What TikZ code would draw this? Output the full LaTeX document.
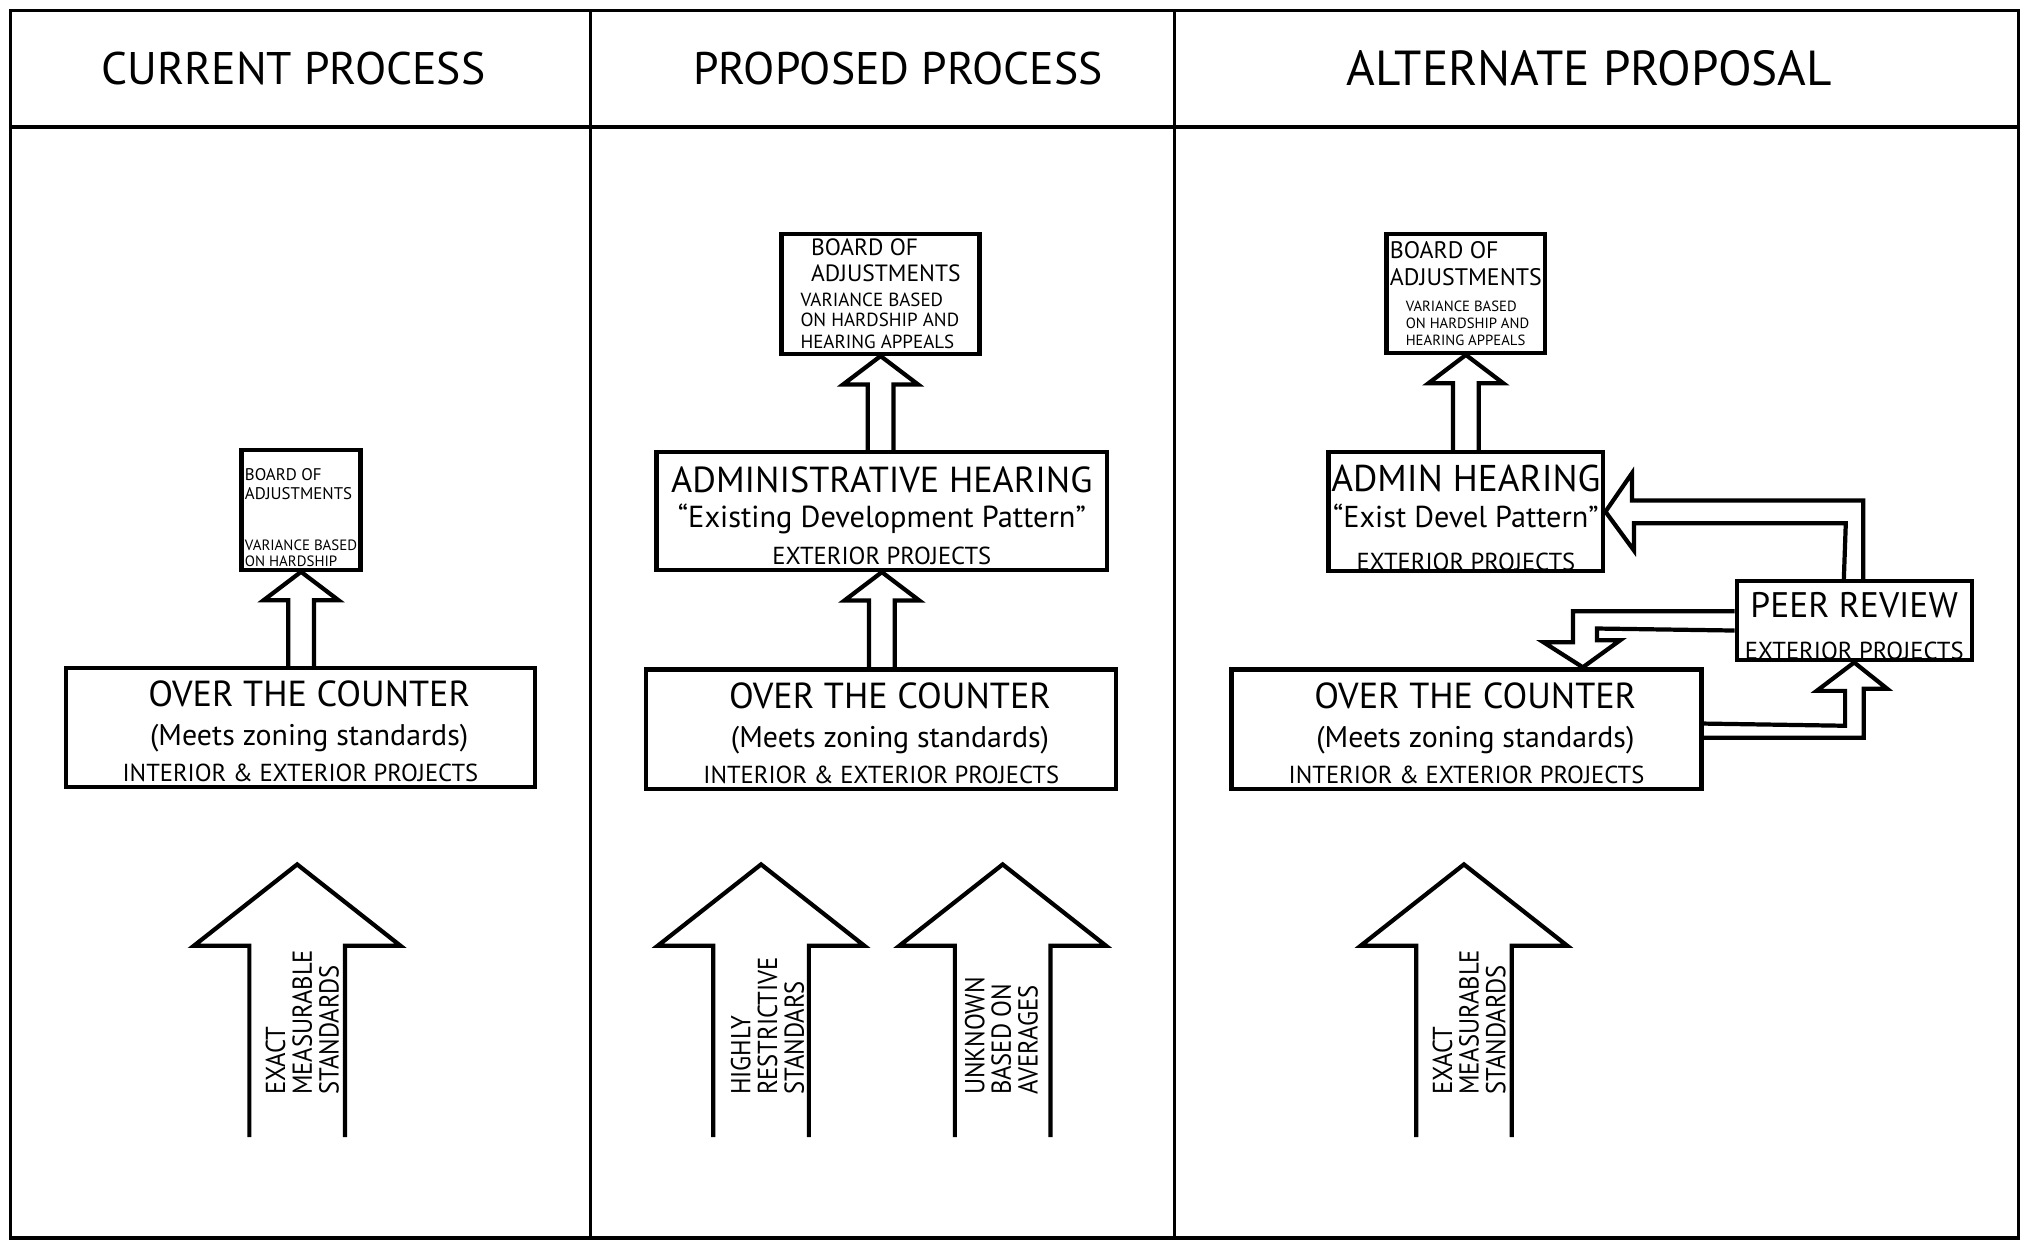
\documentclass[tikz,border=0pt]{standalone}
\usepackage{fontspec}
\setmainfont{PT Sans}
\newfontfamily\narrowsans[FakeStretch=0.9]{PT Sans}
\usetikzlibrary{calc}

\newcommand\hollowup[2]{%
  \draw[hollow] ($(#1)+(-10,0)$) -- ($(#2)+(-10,22)$) -- ($(#2)+(-29,22)$) -- (#2)
    -- ($(#2)+(29,22)$) -- ($(#2)+(10,22)$) -- ($(#1)+(10,0)$);}
\newcommand\bigup[1]{%
  \draw[hollow] ($(#1)+(-37,211)$) -- ($(#1)+(-37,63)$) -- ($(#1)+(-80,63)$) -- (#1)
    -- ($(#1)+(80,63)$) -- ($(#1)+(37,63)$) -- ($(#1)+(37,211)$);}
\newcommand\smallcaps{\fontsize{7}{8}\selectfont}
\newcommand\otctext{\rule{0pt}{9.5pt}\hspace*{5pt}OVER THE COUNTER\\{\fontsize{8.5}{11}\selectfont \hspace*{5pt}(Meets zoning standards)}\\[-0.8pt]{\smallcaps INTERIOR \& EXTERIOR PROJECTS}}

\begin{document}
\begin{tikzpicture}[
    x=0.01292cm, y=-0.01292cm,
    box/.style={draw, rectangle, line width=1.2pt, inner sep=0pt, align=center, font=\fontsize{10.3}{11}\selectfont},
    board/.style={box, align=left},
    hollow/.style={draw, line width=1.2pt},
    title/.style={font=\fontsize{13}{14}\selectfont},
    std/.style={rotate=90, anchor=west, align=left, inner sep=0pt, font=\narrowsans\fontsize{7.8}{7.6}\selectfont}
]
    \useasboundingbox (0,0) rectangle (1568,960);
    \draw[line width=1pt] (8,8) rectangle (1562,958);
    \draw[line width=1.2pt] (8,98) -- (1562,98);
    \draw[line width=1pt] (457,8) -- (457,958);
    \draw[line width=1pt] (909,8) -- (909,958);

    \node[title] (curT) at (227,53) {CURRENT PROCESS};
    \node[title] (propT) at (695,53) {PROPOSED PROCESS};
    \node[title, font=\fontsize{14}{15}\selectfont] (altT) at (1230,53) {ALTERNATE PROPOSAL};

    % current process
    \node[board, minimum width=1.19cm, minimum height=1.2cm, font=\fontsize{4.8}{5.5}\selectfont] (boaA) at (233,394.5)
        {\rule{0pt}{7.8pt}BOARD OF\\ADJUSTMENTS\\[8.8pt]{\fontsize{4.25}{4.4}\selectfont VARIANCE BASED}\\[-1pt]{\fontsize{4.25}{4.4}\selectfont ON HARDSHIP}};
    \node[box, minimum width=4.69cm, minimum height=1.19cm] (otcA) at (232.5,563) {\otctext};
    \coordinate (upA) at (boaA.south |- otcA.north);
    \hollowup{upA}{boaA.south}
    \coordinate (tipA) at (230,669);
    \bigup{tipA}
    \node[std] (stdA) at (234,848) {EXACT\\MEASURABLE\\STANDARDS};

    % proposed process
    \node[board, minimum width=1.98cm, minimum height=1.2cm, font=\fontsize{6.7}{7.4}\selectfont] (boaB) at (681.5,227.5)
        {\hspace*{3pt}BOARD OF\\\hspace*{3pt}ADJUSTMENTS\\[-0.4pt]{\fontsize{5.4}{6}\selectfont VARIANCE BASED}\\[-1.5pt]{\fontsize{5.4}{6}\selectfont ON HARDSHIP AND}\\[-1.2pt]{\fontsize{5.4}{6}\selectfont HEARING APPEALS}};
    \node[box, minimum width=4.51cm, minimum height=1.18cm, font=\fontsize{10.3}{10}\selectfont] (admB) at (682.5,395.5)
        {\rule{0pt}{10.2pt}ADMINISTRATIVE HEARING\\{\fontsize{8.65}{11}\selectfont “Existing Development Pattern”}\\[0.6pt]{\smallcaps EXTERIOR PROJECTS}};
    \node[box, minimum width=4.7cm, minimum height=1.2cm] (otcB) at (682,564.5) {\otctext};
    \coordinate (upB1) at (boaB.south |- admB.north);
    \hollowup{upB1}{boaB.south}
    \coordinate (upB2) at (admB.south |- otcB.north);
    \hollowup{upB2}{admB.south}
    \coordinate (tipB1) at (589,669);
    \bigup{tipB1}
    \node[std] (stdB1) at (594,848) {HIGHLY\\RESTRICTIVE\\STANDARS};
    \coordinate (tipB2) at (776,669);
    \bigup{tipB2}
    \node[std] (stdB2) at (775,848) {UNKNOWN\\BASED ON\\AVERAGES};

    % alternate proposal
    \node[board, minimum width=1.59cm, minimum height=1.19cm, font=\fontsize{6.8}{7.7}\selectfont] (boaC) at (1134.5,227)
        {BOARD OF\\ADJUSTMENTS\\[-0.3pt]\hspace*{4.5pt}{\fontsize{4.2}{5}\selectfont VARIANCE BASED}\\[-2.9pt]\hspace*{4.5pt}{\fontsize{4.2}{5}\selectfont ON HARDSHIP AND}\\[-2.9pt]\hspace*{4.5pt}{\fontsize{4.2}{5}\selectfont HEARING APPEALS}};
    \node[box, minimum width=2.75cm, minimum height=1.19cm, font=\fontsize{10.6}{10.2}\selectfont] (admC) at (1134.5,396)
        {\rule{0pt}{11pt}ADMIN HEARING\\{\fontsize{8.6}{11}\selectfont “Exist Devel Pattern”}\\[2pt]{\smallcaps EXTERIOR PROJECTS}};
    \node[box, minimum width=2.35cm, minimum height=0.79cm, font=\fontsize{10.1}{12}\selectfont] (peer) at (1435,480.5)
        {\rule{0pt}{10pt}PEER REVIEW\\{\smallcaps EXTERIOR PROJECTS}};
    \node[box, minimum width=4.7cm, minimum height=1.2cm] (otcC) at (1135,564.5) {\otctext};
    \coordinate (upC) at (boaC.south |- admC.north);
    \hollowup{upC}{boaC.south}
    \draw[hollow] ($(peer.north)+(7,0)$) -- ++(0,-61) -- ++(-179,0) -- ++(0,-21) -- (admC.east)
        -- ++(22,30) -- ++(0,-21) -- ++(164,0) -- ($(peer.north)+(-8,0)$);
    \draw[hollow] ($(peer.west)+(0,-7.5)$) -- ++(-125,0) -- ++(0,24) -- ++(-23,0) -- ($(otcC.north)+(90,0)$)
        -- ++(29,-21) -- ++(-18,0) -- ++(0,-9) -- ($(peer.west)+(0,7.5)$);
    \draw[hollow] ($(otcC.east)+(0,6.5)$) -- ++(124,0) -- ++(0,-38) -- ++(18,0) -- (peer.south)
        -- ++(-29,22) -- ++(22,0) -- ++(0,27) -- ($(otcC.east)+(0,-4.5)$);
    \coordinate (tipC) at (1133,669);
    \bigup{tipC}
    \node[std] (stdC) at (1137,848) {EXACT\\MEASURABLE\\STANDARDS};
\end{tikzpicture}
\end{document}
